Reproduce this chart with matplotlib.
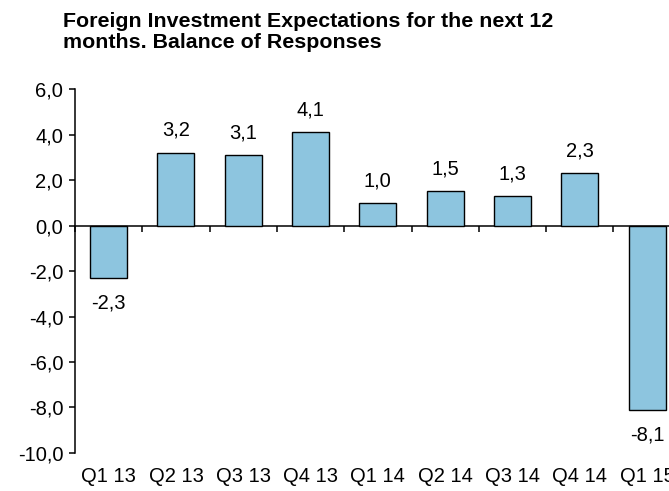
import numpy as np
import matplotlib.pyplot as plt

plt.rcParams['font.family'] = ['Liberation Sans', 'DejaVu Sans']

quarters = ["Q1 13", "Q2 13", "Q3 13", "Q4 13", "Q1 14", "Q2 14", "Q3 14", "Q4 14", "Q1 15"]
balance = [-2.3, 3.2, 3.1, 4.1, 1.0, 1.5, 1.3, 2.3, -8.1]
y_ticks = [-10, -8, -6, -4, -2, 0, 2, 4, 6]

def comma(v):
    return f"{v:.1f}".replace('.', ',')

fig = plt.figure(figsize=(6.69, 4.91), dpi=100)
# axes runs a bit past the right edge, the last label gets cut like the original
ax = fig.add_axes([0.1121, 0.0774, 0.9054, 0.7413])

x = np.arange(len(quarters))
ax.bar(x, balance, width=0.55, color='#8DC5DF', edgecolor='black', linewidth=1.0, zorder=3)

for xi, v in zip(x, balance):
    off = 16 if v >= 0 else -18
    ax.annotate(comma(v), (xi, v), xytext=(0, off), textcoords='offset points',
                ha='center', va='center', fontsize=14.5)

ax.set_xlim(-0.5, len(quarters) - 0.5)
ax.set_ylim(-10, 6)
ax.set_yticks(y_ticks)
ax.set_yticklabels([comma(t) for t in y_ticks])

ax.set_xticks(x)
ax.set_xticklabels(quarters)
ax.set_xticks(np.arange(-0.5, len(quarters), 1), minor=True)

ax.spines['right'].set_visible(False)
ax.spines['bottom'].set_visible(False)
ax.spines['top'].set_position(('data', 0))
ax.spines['top'].set_linewidth(1.1)
ax.spines['left'].set_linewidth(1.1)

ax.tick_params(axis='y', direction='out', length=4.5, width=1.1, pad=4, labelsize=14.5)
ax.tick_params(axis='x', which='major', length=0, pad=10, top=False, bottom=True,
               labelsize=14.5)
ax.tick_params(axis='x', which='minor', top=True, bottom=False, direction='in',
               length=4, width=1.1)

fig.text(63 / 669, 1 - 12 / 491,
         "Foreign Investment Expectations for the next 12\nmonths. Balance of Responses",
         fontsize=15.4, fontweight='bold', ha='left', va='top', linespacing=1.15)

fig.savefig('out.png', dpi=100)
